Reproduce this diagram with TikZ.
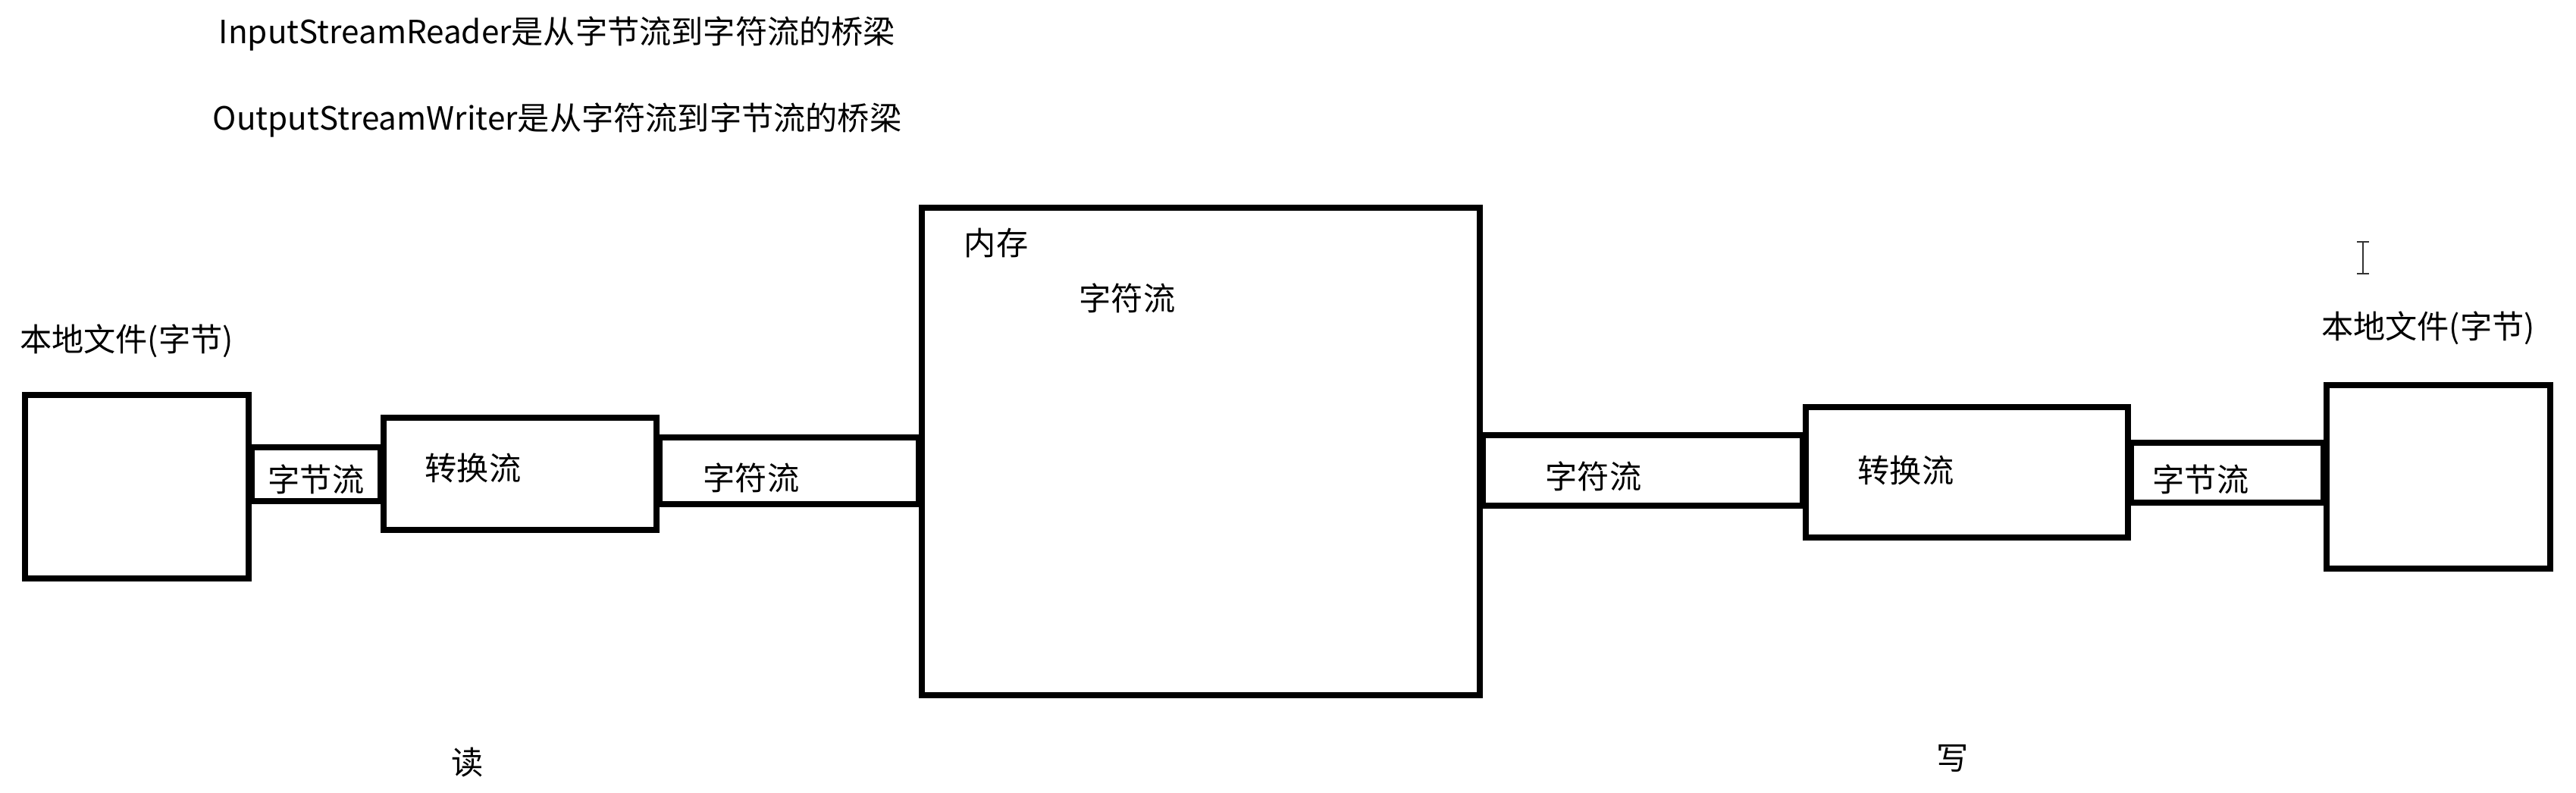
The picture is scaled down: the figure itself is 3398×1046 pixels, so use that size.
\documentclass[tikz,border=0pt]{standalone}
\usepackage{fontspec}
\setmainfont{Noto Sans CJK SC}
\begin{document}
\begin{tikzpicture}[x=0.01cm,y=-0.01cm,
  frame/.style={draw=black, line width=0.08cm, rectangle, inner sep=0pt},
  tube/.style={draw=black, line width=0.08cm},
  lbl/.style={inner sep=0pt, text=black, font=\fontsize{12pt}{14pt}\selectfont}]
\useasboundingbox (0,0) rectangle (3398,1046);
\fill[white] (0,0) rectangle (3398,1046);

% titles
\node[lbl] (t1) at (735,44) {InputStreamReader是从字节流到字符流的桥梁};
\node[lbl] (t2) at (735,158) {OutputStreamWriter是从字符流到字节流的桥梁};

% boxes
\node[frame, minimum width=2.95cm, minimum height=2.42cm] (lbox) at (180.5,642) {};
\node[frame, minimum width=3.60cm, minimum height=1.48cm] (lconv) at (686,625) {};
\node[frame, minimum width=7.36cm, minimum height=6.43cm] (mem) at (1584,595.5) {};
\node[frame, minimum width=4.25cm, minimum height=1.72cm] (rconv) at (2594.5,623) {};
\node[frame, minimum width=2.95cm, minimum height=2.42cm] (rbox) at (3216.5,629) {};

% tubes
\draw[tube] (lbox.east |- 0,590) rectangle (lconv.west |- 0,661);
\draw[tube] (lconv.east |- 0,577) rectangle (mem.west |- 0,665);
\draw[tube] (mem.east |- 0,574) rectangle (rconv.west |- 0,667);
\draw[tube] (rconv.east |- 0,584) rectangle (rbox.west |- 0,663);

% labels
\node[lbl] (llocal) at (167,450) {本地文件(字节)};
\node[lbl] (rlocal) at (3203,433) {本地文件(字节)};
\node[lbl] (lbyte) at (417,632) {字节流};
\node[lbl] (lconvt) at (624,617) {转换流};
\node[lbl] (lchar) at (991,630) {字符流};
\node[lbl] (memt) at (1314,321) {内存};
\node[lbl] (memc) at (1487,393) {字符流};
\node[lbl] (rchar) at (2102,628) {字符流};
\node[lbl] (rconvt) at (2514,620) {转换流};
\node[lbl] (rbyte) at (2903,632) {字节流};
\node[lbl] (read) at (617,1006) {读};
\node[lbl] (write) at (2576,1000) {写};

% text cursor
\draw[line width=0.025cm, black!80] (3109,319) -- (3125,319) (3117,319) -- (3117,361) (3109,361) -- (3125,361);
\end{tikzpicture}
\end{document}
